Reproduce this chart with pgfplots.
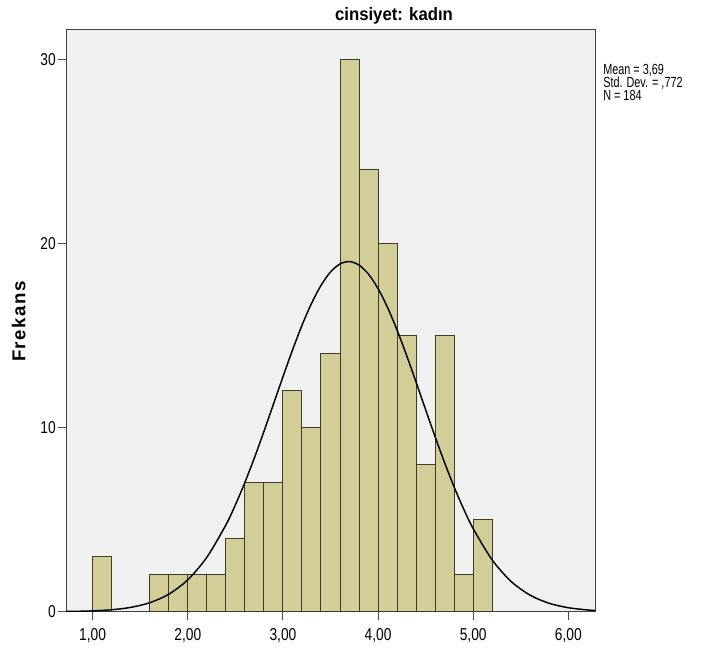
\documentclass[border=0pt]{standalone}
\usepackage{fontspec}
\setmainfont{Liberation Sans}
\newfontfamily\narrowfont[FakeStretch=0.8]{Liberation Sans}
\newfontfamily\statfont[FakeStretch=0.74]{Liberation Sans}
\newfontfamily\titlefont[FakeStretch=0.93]{Liberation Sans}
\newfontfamily\ylabfont[LetterSpace=8]{Liberation Sans}
\usepackage{pgfplots}
\pgfplotsset{compat=1.18}
\definecolor{barfill}{RGB}{211,205,152}
\definecolor{baredge}{RGB}{60,60,40}
\definecolor{plotbg}{RGB}{240,240,240}

\begin{document}
\begin{tikzpicture}
% page = 706 x 653 px, 1 px = 0.75pt
\path[use as bounding box] (0,0) rectangle (529.5pt,489.75pt);
\begin{axis}[
    at={(49.5pt,30.98pt)}, anchor=south west,
    scale only axis,
    width=396.75pt, height=436.3pt,
    xmin=0.72, xmax=6.28, ymin=0, ymax=31.6,
    axis background/.style={fill=plotbg},
    axis line style={draw=black!75, line width=0.75pt},
    tick align=outside, xtick pos=bottom, ytick pos=left,
    major tick length=6pt,
    tick style={black!70, line width=0.75pt},
    xtick={1,2,3,4,5,6},
    xticklabels={{1,00},{2,00},{3,00},{4,00},{5,00},{6,00}},
    ytick={0,10,20,30},
    /pgf/number format/assume math mode=true,
    tick label style={font=\narrowfont\fontsize{12.9}{14}\selectfont, inner sep=0pt},
    xticklabel style={yshift=-6.5pt},
    yticklabel style={xshift=-1.5pt},
    clip=true,
]
% histogram, bin width 0.2
\addplot[ybar interval, fill=barfill, draw=baredge, line width=0.75pt] coordinates {
    (1.0,3)(1.2,0)
};
\addplot[ybar interval, fill=barfill, draw=baredge, line width=0.75pt] coordinates {
    (1.6,2)(1.8,2)(2.0,2)(2.2,2)(2.4,4)(2.6,7)(2.8,7)(3.0,12)(3.2,10)(3.4,14)
    (3.6,30)(3.8,24)(4.0,20)(4.2,15)(4.4,8)(4.6,15)(4.8,2)(5.0,5)(5.2,0)
};
% normal curve (mean 3,69, sd ,772, N 184)
\addplot[smooth, black, line width=1.1pt] coordinates {
    (0.72,0.012)(0.8,0.017)(1.0,0.044)(1.2,0.105)(1.4,0.234)(1.6,0.487)
    (1.8,0.950)(2.0,1.733)(2.2,2.954)(2.4,4.709)(2.5,5.799)(2.6,7.020)
    (2.7,8.358)(2.8,9.786)(2.9,11.268)(3.0,12.757)(3.1,14.204)(3.2,15.551)
    (3.3,16.741)(3.4,17.725)(3.5,18.454)(3.6,18.891)(3.7,19.018)(3.8,18.828)
    (3.9,18.330)(4.0,17.546)(4.1,16.519)(4.2,15.292)(4.3,13.919)(4.4,12.460)
    (4.5,10.969)(4.6,9.495)(4.7,8.082)(4.8,6.766)(4.9,5.569)(5.0,4.508)
    (5.2,2.807)(5.4,1.636)(5.6,0.891)(5.8,0.454)(6.0,0.216)(6.2,0.096)(6.28,0.068)
};
\end{axis}
\node[anchor=base, inner sep=0pt, font=\titlefont\bfseries\fontsize{13.5}{15}\selectfont]
    at (295.5pt,474.2pt) {cinsiyet: kadın};
\node[rotate=90, inner sep=0pt, font=\ylabfont\bfseries\fontsize{14}{16}\selectfont]
    at (14pt,248.5pt) {Frekans};
\begin{scope}[every node/.style={anchor=base west, inner sep=0pt,
      font=\statfont\fontsize{11}{12}\selectfont}]
\node at (452.25pt,433.5pt) {Mean = 3,69};
\node at (452.25pt,423.75pt) {Std. Dev. = ,772};
\node at (452.25pt,414pt) {N = 184};
\end{scope}
\end{tikzpicture}
\end{document}
